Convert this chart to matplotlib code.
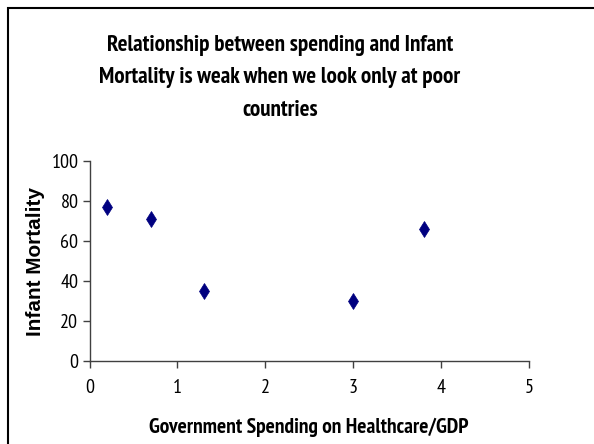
import matplotlib
matplotlib.use('Agg')
import matplotlib.pyplot as plt
from matplotlib.patches import Rectangle
from matplotlib import font_manager

spending = [0.2, 0.7, 1.3, 3.0, 3.8]
mortality = [77, 71, 35, 30, 66]
x_ticks = [0, 1, 2, 3, 4, 5]
y_ticks = [0, 20, 40, 60, 80, 100]

title_lines = ['Relationship between spending and Infant',
               'Mortality is weak when we look only at poor',
               'countries']
xlabel = 'Government Spending on Healthcare/GDP'
ylabel = 'Infant Mortality'

# narrow face like Arial Narrow, needs a bold weight too
faces = {}
for f in font_manager.fontManager.ttflist:
    faces.setdefault(f.name, set()).add(f.weight)
narrow_name = 'Liberation Sans'
for cand in ['Liberation Sans Narrow', 'Arial Narrow', 'Archivo Narrow', 'PT Sans Narrow',
             'Roboto Condensed', 'Fira Sans Condensed', 'IBM Plex Sans Condensed',
             'Barlow Semi Condensed', 'Encode Sans Condensed', 'Sofia Sans Condensed']:
    w = faces.get(cand, set())
    if 700 in w and 400 in w:
        narrow_name = cand
        break
narrow = [narrow_name, 'DejaVu Sans']

fig = plt.figure(figsize=(5.94, 4.44), dpi=100)
fig.patch.set_facecolor('white')
ax = fig.add_axes([0.1507, 0.1876, 0.7399, 0.4505])
renderer = fig.canvas.get_renderer()


def fit_width(txt, target, vertical=False):
    bb = txt.get_window_extent(renderer)
    w = bb.height if vertical else bb.width
    txt.set_fontsize(txt.get_fontsize() * target / w)


ax.plot(spending, mortality, 'd', color='#000080', markersize=8, markeredgewidth=0.5)

ax.set_xlim(0, 5)
ax.set_ylim(0, 100)
ax.set_xticks(x_ticks)
ax.set_yticks(y_ticks)
ax.set_xticklabels([str(t) for t in x_ticks], family=narrow)
ax.set_yticklabels([str(t) for t in y_ticks], family=narrow)
# "100" is about 27 px wide in the original
probe = fig.text(0, 0, '100', family=narrow, fontsize=12)
fit_width(probe, 27)
tick_size = probe.get_fontsize()
probe.remove()
ax.tick_params(axis='both', labelsize=tick_size, labelcolor='black', direction='out',
               length=5, width=1, color='#404040')
ax.tick_params(axis='x', pad=8)
ax.tick_params(axis='y', pad=3)
for s in ['top', 'right']:
    ax.spines[s].set_visible(False)
for s in ['left', 'bottom']:
    ax.spines[s].set_color('#404040')
    ax.spines[s].set_linewidth(1)

yl = fig.text(36 / 594, 1 - 262 / 444, ylabel, rotation=90, ha='center', va='center',
              fontsize=12, fontweight='bold', family=['Liberation Sans', 'DejaVu Sans'])
fit_width(yl, 148, vertical=True)

xl = fig.text(309 / 594, 1 - 427 / 444, xlabel,
              ha='center', va='center', fontsize=12, fontweight='bold', family=narrow)
fit_width(xl, 320)

title_y = [45, 78, 111]
title_txt = [fig.text(280 / 594, 1 - y / 444, line, ha='center', va='center',
                      fontsize=14, fontweight='bold', family=narrow)
             for line, y in zip(title_lines, title_y)]
w0 = title_txt[1].get_window_extent(renderer).width
for t in title_txt:
    t.set_fontsize(14 * 363 / w0)

fig.patches.append(Rectangle((0.0128, -0.1), 1.2, 1.083, transform=fig.transFigure,
                             fill=False, edgecolor='black', linewidth=1.5))

fig.savefig('out.png', dpi=100)
